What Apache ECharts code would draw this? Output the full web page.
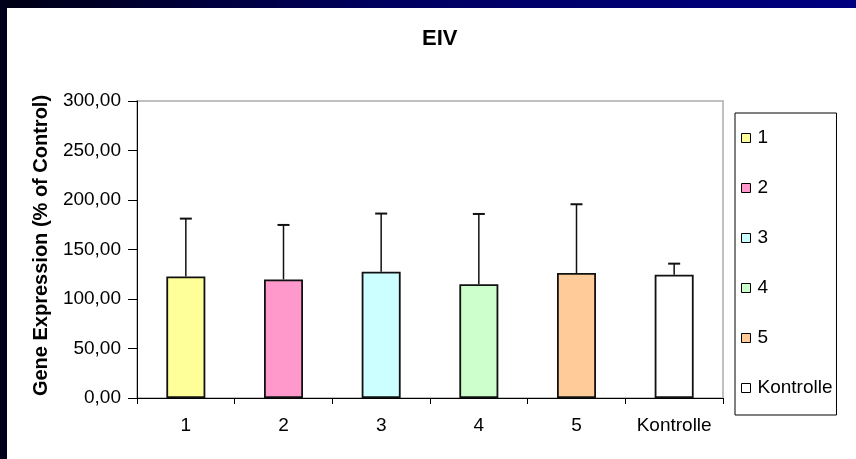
<!DOCTYPE html>
<html>
<head>
<meta charset="utf-8">
<title>EIV</title>
<script src="https://cdn.jsdelivr.net/npm/echarts@6/dist/echarts.min.js"></script>
<style>
  html, body { margin: 0; padding: 0; overflow: hidden; background: #fff; }
  body { width: 856px; height: 459px; position: relative; }
  #topbar { position: absolute; left: 0; top: 0; width: 856px; height: 8px;
    background: linear-gradient(to right, #000014 0%, #000060 45%, #000080 100%); }
  #leftbar { position: absolute; left: 0; top: 0; width: 7px; height: 459px; background: #00001a; }
  #main { position: absolute; left: 0; top: 0; width: 856px; height: 459px; }
</style>
</head>
<body>
<div id="topbar"></div>
<div id="leftbar"></div>
<div id="main"></div>
<script>
// Daten
var categories = ['1', '2', '3', '4', '5', 'Kontrolle'];
var means = [122.8, 119.8, 127.6, 115.0, 126.2, 124.5];
var errors = [58.4, 55.0, 58.7, 70.9, 69.5, 11.2];
var barColors = ['#FFFF99', '#FF99CC', '#CCFFFF', '#CCFFCC', '#FFCC99', '#FFFFFF'];
var yTicks = { min: 0, max: 300, interval: 50 };

var font = 'Liberation Sans, Arial, sans-serif';
var chart = echarts.init(document.getElementById('main'), null, { renderer: 'canvas' });

// eine Serie pro Gruppe, damit die Legende alle Einträge zeigt
var series = categories.map(function (name, i) {
  var data = categories.map(function (c, j) { return j === i ? means[i] : '-'; });
  return {
    name: name,
    type: 'bar',
    stack: 'all',
    barWidth: 39,
    data: data,
    itemStyle: { color: barColors[i], borderColor: '#111', borderWidth: 1.8 },
    emphasis: { disabled: true }
  };
});

// Fehlerbalken (nur nach oben)
series.push({
  type: 'custom',
  name: 'err',
  z: 5,
  data: means.map(function (m, i) { return [i, m, m + errors[i]]; }),
  renderItem: function (params, api) {
    var base = api.coord([api.value(0), api.value(1)]);
    var top = api.coord([api.value(0), api.value(2)]);
    var half = 6;
    return {
      type: 'group',
      children: [
        { type: 'line', shape: { x1: base[0], y1: base[1], x2: top[0], y2: top[1] },
          style: { stroke: '#111', lineWidth: 1.5 } },
        { type: 'line', shape: { x1: top[0] - half, y1: top[1], x2: top[0] + half, y2: top[1] },
          style: { stroke: '#111', lineWidth: 2 } }
      ]
    };
  }
});

var option = {
  animation: false,
  textStyle: { fontFamily: font },
  title: {
    text: 'EIV',
    left: 417,
    top: 23,
    textStyle: { fontFamily: font, fontSize: 22, fontWeight: 'bold', color: '#000' }
  },
  legend: {
    data: categories,
    orient: 'vertical',
    left: 735,
    top: 113,
    padding: [15, 4, 17, 6],
    itemGap: 30,
    itemWidth: 9,
    itemHeight: 9,
    icon: 'rect',
    borderColor: '#000',
    borderWidth: 1,
    backgroundColor: '#fff',
    selectedMode: false,
    itemStyle: { borderColor: '#000', borderWidth: 1 },
    textStyle: { fontFamily: font, fontSize: 19, lineHeight: 20, color: '#000', padding: [0, 0, 0, 2] }
  },
  grid: {
    left: 137, right: 133, top: 101, bottom: 61,
    show: true,
    borderColor: '#c0c0c0',
    borderWidth: 2,
    backgroundColor: 'transparent'
  },
  xAxis: {
    type: 'category',
    data: categories,
    axisLine: { lineStyle: { color: '#000', width: 1 } },
    axisTick: { show: true, length: 6, lineStyle: { color: '#000' } },
    axisLabel: { margin: 18, fontFamily: font, fontSize: 19, color: '#000' },
    splitLine: { show: false }
  },
  yAxis: {
    type: 'value',
    min: yTicks.min,
    max: yTicks.max,
    interval: yTicks.interval,
    name: 'Gene Expression (% of Control)',
    nameLocation: 'middle',
    nameGap: 86,
    nameTextStyle: { fontFamily: font, fontSize: 20, fontWeight: 'bold', color: '#000', padding: [0, 0, 0, 8] },
    axisLine: { show: true, lineStyle: { color: '#000', width: 1 } },
    axisTick: { show: true, length: 9, lineStyle: { color: '#000' } },
    axisLabel: {
      margin: 16, fontFamily: font, fontSize: 19, color: '#000',
      formatter: function (v) { return v.toFixed(2).replace('.', ','); }
    },
    splitLine: { show: false }
  },
  series: series
};

chart.setOption(option);
</script>
</body>
</html>
